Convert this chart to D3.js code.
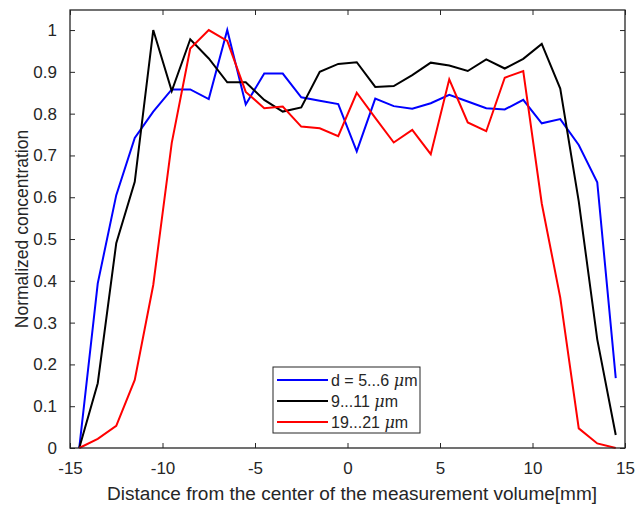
<!DOCTYPE html>
<html>
<head>
<meta charset="utf-8">
<script src="https://cdn.jsdelivr.net/npm/d3@7"></script>
<style>
  body { margin: 0; background: #fff; }
  svg { display: block; font-family: "Liberation Sans", Arial, sans-serif; }
</style>
</head>
<body>
<div id="chart"></div>
<script>
// positions along the measurement volume (mm)
const positions = [-14.5, -13.5, -12.5, -11.5, -10.5, -9.5, -8.5, -7.5, -6.5, -5.5,
  -4.5, -3.5, -2.5, -1.5, -0.5, 0.5, 1.5, 2.5, 3.5, 4.5,
  5.5, 6.5, 7.5, 8.5, 9.5, 10.5, 11.5, 12.5, 13.5, 14.5];

const small = [0, 0.394, 0.605, 0.742, 0.805, 0.858, 0.858, 0.835, 1.0, 0.822,
  0.896, 0.896, 0.839, 0.831, 0.823, 0.710, 0.836, 0.818, 0.812, 0.825,
  0.845, 0.829, 0.813, 0.810, 0.833, 0.777, 0.787, 0.725, 0.636, 0.167];

const medium = [0, 0.155, 0.490, 0.637, 1.0, 0.854, 0.978, 0.932, 0.875, 0.875,
  0.833, 0.805, 0.815, 0.900, 0.919, 0.923, 0.864, 0.866, 0.892, 0.922,
  0.915, 0.902, 0.930, 0.908, 0.931, 0.967, 0.860, 0.590, 0.260, 0.031];

const large = [0, 0.022, 0.053, 0.163, 0.390, 0.730, 0.956, 1.0, 0.974, 0.852,
  0.813, 0.817, 0.769, 0.765, 0.746, 0.850, 0.790, 0.731, 0.761, 0.703,
  0.882, 0.779, 0.758, 0.886, 0.902, 0.585, 0.360, 0.047, 0.011, 0];

const seriesNames = ['d = 5...6 ', '9...11 ', '19...21 '];
const seriesColors = ['#0000ff', '#000000', '#ff0000'];
const xTicks = [-15, -10, -5, 0, 5, 10, 15];
const yTicks = [0, 0.1, 0.2, 0.3, 0.4, 0.5, 0.6, 0.7, 0.8, 0.9, 1];

const config = {
  width: 644,
  height: 505,
  margin: { top: 10, right: 19, bottom: 57, left: 70 }
};
const innerW = config.width - config.margin.left - config.margin.right;
const innerH = config.height - config.margin.top - config.margin.bottom;
const axisColor = '#262626';

const svg = d3.select('#chart').append('svg')
  .attr('width', config.width)
  .attr('height', config.height);

const g = svg.append('g')
  .attr('transform', `translate(${config.margin.left},${config.margin.top})`);

const x = d3.scaleLinear().domain([-15, 15]).range([0, innerW]);
const y = d3.scaleLinear().domain([0, 1.048]).range([innerH, 0]);

// ticks on all four sides, pointing inward (matlab box style)
const tickLen = 5;
const axisStyle = sel => {
  sel.select('.domain').remove();
  sel.selectAll('.tick line').attr('stroke', axisColor);
  sel.selectAll('.tick text')
    .attr('fill', axisColor)
    .attr('font-size', 17);
};

// plain hyphen for negatives, like matlab
const plain = d => String(d);

g.append('g')
  .attr('transform', `translate(0,${innerH})`)
  .call(d3.axisBottom(x).tickValues(xTicks).tickSizeInner(-tickLen).tickSizeOuter(0).tickPadding(14).tickFormat(plain))
  .call(axisStyle);

g.append('g')
  .call(d3.axisTop(x).tickValues(xTicks).tickSizeInner(-tickLen).tickSizeOuter(0).tickFormat(''))
  .call(axisStyle);

g.append('g')
  .call(d3.axisLeft(y).tickValues(yTicks).tickSizeInner(-tickLen).tickSizeOuter(0).tickPadding(13).tickFormat(plain))
  .call(axisStyle);

g.append('g')
  .attr('transform', `translate(${innerW},0)`)
  .call(d3.axisRight(y).tickValues(yTicks).tickSizeInner(-tickLen).tickSizeOuter(0).tickFormat(''))
  .call(axisStyle);

// plot lines
const line = d3.line()
  .x((d, i) => x(positions[i]))
  .y(d => y(d));

[small, medium, large].forEach((vals, k) => {
  g.append('path')
    .datum(vals)
    .attr('fill', 'none')
    .attr('stroke', seriesColors[k])
    .attr('stroke-width', 2)
    .attr('stroke-linejoin', 'miter')
    .attr('d', line);
});

// box
g.append('rect')
  .attr('width', innerW)
  .attr('height', innerH)
  .attr('fill', 'none')
  .attr('stroke', axisColor)
  .attr('stroke-width', 1.3);

// axis labels
svg.append('text')
  .text('Distance from the center of the measurement volume[mm]')
  .attr('x', 352)
  .attr('y', 500)
  .attr('text-anchor', 'middle')
  .attr('font-size', 18)
  .attr('textLength', 490)
  .attr('lengthAdjust', 'spacingAndGlyphs')
  .attr('fill', axisColor);

svg.append('text')
  .text('Normalized concentration')
  .attr('transform', `translate(28,229) rotate(-90)`)
  .attr('text-anchor', 'middle')
  .attr('font-size', 17.5)
  .attr('fill', axisColor);

// legend
const legend = svg.append('g').attr('transform', 'translate(273,367)');
legend.append('rect')
  .attr('width', 147)
  .attr('height', 66)
  .attr('fill', '#fff')
  .attr('stroke', axisColor)
  .attr('stroke-width', 1);

seriesNames.forEach((name, i) => {
  const row = legend.append('g').attr('transform', `translate(0,${13 + 21 * i})`);
  row.append('line')
    .attr('x1', 4).attr('x2', 55)
    .attr('stroke', seriesColors[i])
    .attr('stroke-width', 2);
  const t = row.append('text')
    .attr('x', 58)
    .attr('dy', '0.35em')
    .attr('font-size', 16)
    .attr('fill', axisColor);
  t.append('tspan').text(name);
  t.append('tspan').text('\u03bc').attr('font-style', 'italic').attr('font-family', '"DejaVu Serif", serif');
  t.append('tspan').text('m');
});
</script>
</body>
</html>
